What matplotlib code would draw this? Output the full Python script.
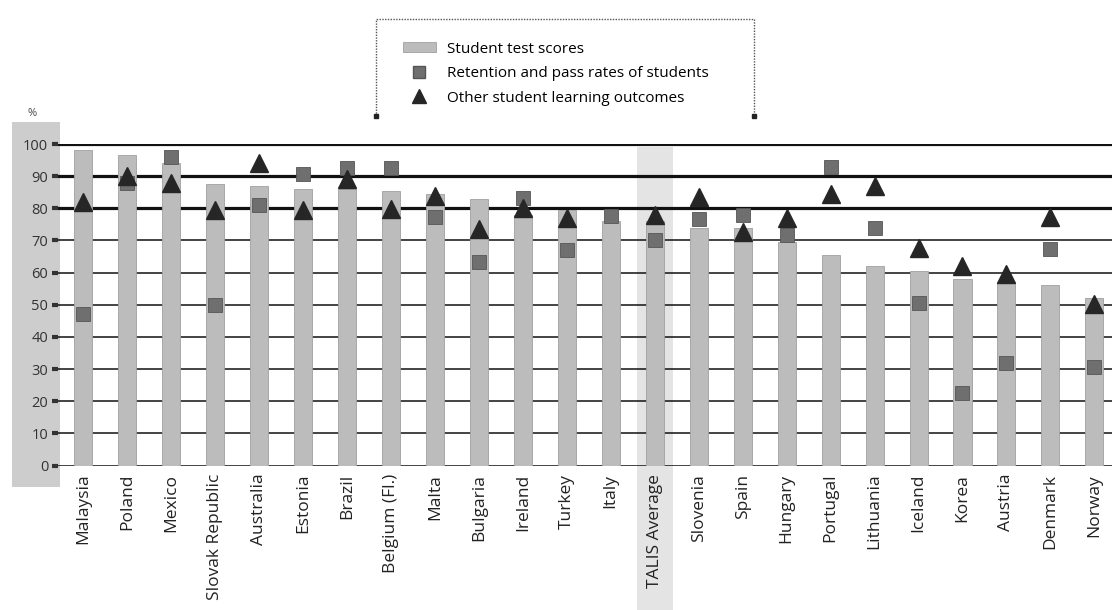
import numpy as np
import matplotlib
matplotlib.use("Agg")
import matplotlib.pyplot as plt
from matplotlib.patches import Rectangle
from matplotlib.lines import Line2D

plt.rcParams["font.family"] = ["Open Sans", "DejaVu Sans"]

countries = ["Malaysia", "Poland", "Mexico", "Slovak Republic", "Australia",
             "Estonia", "Brazil", "Belgium (Fl.)", "Malta", "Bulgaria",
             "Ireland", "Turkey", "Italy", "TALIS Average", "Slovenia", "Spain",
             "Hungary", "Portugal", "Lithuania", "Iceland", "Korea", "Austria",
             "Denmark", "Norway"]
test_scores = [98, 96.5, 94, 87.5, 87, 86, 86, 85.5, 84.5, 83,
               78, 79.5, 76, 76, 74, 74, 69.6, 65.5, 62, 60.5,
               58, 57, 56, 52]
# nan where a country has no value for the series
retention = [47, 88, 96, 50, 81, 90.7, 92.6, 92.6, 77.3, 63.3,
             83.3, 67, 77.6, 70, 76.8, 78, 71.7, 93, 73.8, 50.5,
             22.5, 32, 67.3, 30.6]
other_outcomes = [82, 90, 88, 79.5, 94, 79.6, 89, 79.7, 83.7, 73.5,
                  80, 77, np.nan, 78, 83.6, 72.6, 77.1, 84.5, 87, 67.7,
                  62, 59.6, 77.4, 50.2]
yticks = list(range(0, 101, 10))
avg_label = "TALIS Average"

BAR = "#bcbcbc"
SQ = "#6f6f6f"
TRI = "#262626"

fig = plt.figure(figsize=(11.12, 6.10), dpi=100)
ax = fig.add_axes([58 / 1112, 1 - 465.5 / 610, 1 - 58 / 1112, 321.5 / 610])
ax.patch.set_alpha(0)

x = np.arange(len(countries))
avg_i = countries.index(avg_label)

# grey band behind the y tick labels
fig.patches.append(Rectangle((12 / 1112, 1 - 487 / 610), 48 / 1112, 365 / 610,
                             transform=fig.transFigure, facecolor="#cdcdcd",
                             edgecolor="none", zorder=-1))

# highlight column for the average, running down through its label
ax.add_patch(Rectangle((avg_i - 0.41, -46), 0.82, 145, facecolor="#e4e4e4",
                       edgecolor="none", clip_on=False, zorder=-5))

for v in yticks:
    ax.axhline(v, color="#111111", lw=2.3 if v >= 80 else 1.1, zorder=1.5)

ax.bar(x, test_scores, width=0.41, color=BAR, edgecolor="#a0a0a0",
       linewidth=0.6, zorder=2)
ax.plot(x, retention, ls="none", marker="s", ms=10, mfc=SQ, mec="#555555",
        mew=0.6, zorder=3, clip_on=False)
ax.plot(x, other_outcomes, ls="none", marker="^", ms=13, mfc=TRI, mec=TRI,
        zorder=4, clip_on=False)

ax.set_xlim(-0.57, 23.4)
ax.set_ylim(0, 100)
ax.set_yticks(yticks)
ax.set_yticklabels([str(v) for v in yticks], fontsize=10.5, color="#333333")
ax.set_xticks(x)
ax.set_xticklabels(countries, rotation=90, fontsize=12.5, color="#222222")
ax.tick_params(axis="y", length=4, width=3, color="#333333", pad=3)
ax.tick_params(axis="x", length=0, pad=6)
for s in ax.spines.values():
    s.set_visible(False)

fig.text(32 / 1112, 1 - 113 / 610, "%", fontsize=8, color="#444444",
         ha="center", va="center")

# legend with a dotted box open at the bottom
handles = [Rectangle((0, 0), 1, 1, facecolor=BAR, edgecolor="#a0a0a0", lw=0.6),
           Line2D([], [], ls="none", marker="s", ms=8, mfc=SQ, mec="#555555"),
           Line2D([], [], ls="none", marker="^", ms=10, mfc=TRI, mec=TRI)]
labels = ["Student test scores", "Retention and pass rates of students",
          "Other student learning outcomes"]
fig.legend(handles, labels, loc="upper left",
           bbox_to_anchor=(395 / 1112, 1 - 34 / 610), frameon=False,
           fontsize=11, handlelength=2.2, handleheight=0.6,
           labelspacing=0.62, handletextpad=0.7, borderpad=0)

bx0, bx1 = 376 / 1112, 754 / 1112
by0, by1 = 1 - 116 / 610, 1 - 19 / 610
fig.add_artist(Line2D([bx0, bx0, bx1, bx1], [by0, by1, by1, by0],
                      transform=fig.transFigure, color="#555555", lw=1,
                      ls=(0, (1, 1))))
fig.add_artist(Line2D([bx0, bx1], [by0, by0], transform=fig.transFigure,
                      ls="none", marker="s", ms=3, color="#222222"))

fig.savefig("out.png", dpi=100)
